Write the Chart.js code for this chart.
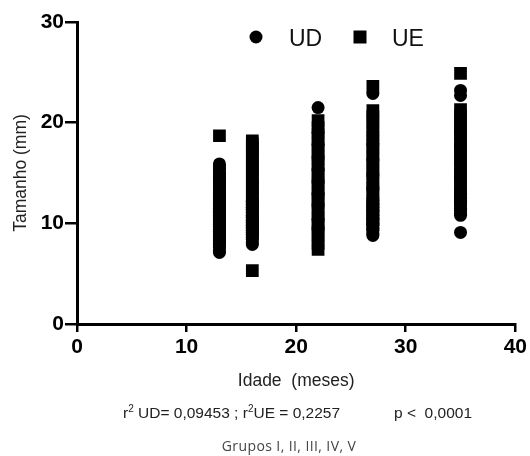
<!DOCTYPE html>
<html>
<head>
<meta charset="utf-8">
<script src="https://cdn.jsdelivr.net/npm/chart.js@4.4.0/dist/chart.umd.min.js"></script>
<style>
  body { margin: 0; background: #fff; }
  #wrap { position: relative; width: 530px; height: 456px; }
  .note { position: absolute; font-family: 'Liberation Sans', Arial, sans-serif; font-size: 15.5px; line-height: 18px; color: #222; white-space: pre; }
  .sup { font-size: 10px; position: relative; top: -6px; }
  #r2 { left: 123px; top: 404px; }
  #pval { left: 394px; top: 404px; }
  #grupos { position: absolute; left: 0; width: 578px; top: 437px; text-align: center; font-family: 'Open Sans', sans-serif; font-size: 14px; letter-spacing: 0.4px; line-height: 17px; color: #444; }
</style>
</head>
<body>
<div id="wrap">
  <canvas id="chart" width="530" height="456"></canvas>
  <div class="note" id="r2">r<span class="sup">2</span> UD= 0,09453 ; r<span class="sup">2</span>UE = 0,2257</div>
  <div class="note" id="pval">p &lt;  0,0001</div>
  <div id="grupos">Grupos I, II, III, IV, V</div>
</div>
<script>
// Idade (meses) de cada grupo
const idades = [13, 16, 22, 27, 35];

// Tamanho (mm) - UD, por grupo
const udI   = [7.1, 7.3, 7.6, 7.8, 8.0, 8.3, 8.5, 8.7, 9.0, 9.2, 9.4, 9.7, 9.9, 10.1, 10.4, 10.6, 10.8, 11.1, 11.3, 11.5,
               11.8, 12.0, 12.2, 12.5, 12.7, 12.9, 13.2, 13.4, 13.6, 13.9, 14.1, 14.3, 14.6, 14.8, 15.0, 15.3, 15.5, 15.7, 15.9];
const udII  = [7.9, 8.1, 8.4, 8.6, 8.9, 9.1, 9.3, 9.6, 9.8, 10.1, 10.3, 10.6, 10.8, 11.1, 11.4, 11.6, 11.9, 12.2];
const udIII = [9.5, 10.4, 11.8, 12.9, 14.1, 15.3, 16.6, 17.8, 19.0, 21.5];
const udIV  = [8.8, 9.0, 9.3, 9.5, 9.8, 10.0, 10.3, 10.5, 10.8, 11.1, 11.3, 11.6, 11.9, 12.3, 13.4, 14.8, 16.3, 17.9, 22.9];
const udV   = [9.1, 10.8, 11.0, 11.3, 11.5, 11.8, 12.0, 12.3, 12.6, 12.9, 13.2, 14.5, 16.0, 17.7, 19.2, 22.7, 23.2];

// Tamanho (mm) - UE, por grupo
const ueI   = [8.5, 9.6, 10.5, 11.5, 12.5, 13.5, 14.5, 18.7];
const ueII  = [5.3, 9.0, 9.4, 9.9, 10.3, 10.8, 11.2, 11.7, 12.1, 12.6, 13.0, 13.5, 13.9, 14.4, 14.8, 15.3, 15.7, 16.2, 16.6, 17.1, 17.5, 17.9, 18.2];
const ueIII = [7.4, 8.0, 8.7, 9.3, 9.9, 10.6, 11.2, 11.9, 12.5, 13.1, 13.8, 14.4, 15.0, 15.7, 16.3, 16.9, 17.6, 18.2, 18.9, 19.5, 20.2];
const ueIV  = [9.9, 10.4, 11.1, 11.7, 12.3, 13.0, 13.6, 14.2, 14.9, 15.5, 16.1, 16.8, 17.4, 18.1, 18.7, 19.3, 20.0, 20.6, 21.2, 23.6];
const ueV   = [12.6, 13.1, 13.7, 14.4, 15.0, 15.6, 16.3, 16.9, 17.5, 18.2, 18.8, 19.4, 20.1, 20.7, 21.3, 24.9];

const xTicks = [0, 10, 20, 30, 40];
const yTicks = [0, 10, 20, 30];

const tamanhoUD = [udI, udII, udIII, udIV, udV];
const tamanhoUE = [ueI, ueII, ueIII, ueIV, ueV];

function toPoints(groups) {
    const pts = [];
    groups.forEach((vals, i) => {
        vals.forEach(v => pts.push({ x: idades[i], y: v }));
    });
    return pts;
}

// Legend drawn inside the plot area, like the original
const legenda = {
    id: 'legenda',
    afterDraw(chart) {
        const ctx = chart.ctx;
        const ds = chart.data.datasets;
        ctx.save();
        ctx.fillStyle = '#000';
        ctx.beginPath();
        ctx.arc(256, 37, 6.5, 0, Math.PI * 2);
        ctx.fill();
        ctx.fillRect(353.5, 30.5, 13, 13);
        ctx.fillStyle = '#111';
        ctx.font = '23px "Liberation Sans", Arial, sans-serif';
        ctx.textBaseline = 'alphabetic';
        ctx.fillText(ds[0].label, 289, 46);
        ctx.fillText(ds[1].label, 392, 46);
        ctx.restore();
    }
};

const ctx = document.getElementById('chart').getContext('2d');

const chart = new Chart(ctx, {
    type: 'scatter',
    data: {
        datasets: [
            {
                label: 'UD',
                data: toPoints(tamanhoUD),
                pointStyle: 'circle',
                pointRadius: 6.5,
                pointHoverRadius: 6.5,
                pointBorderWidth: 0,
                borderWidth: 0,
                backgroundColor: '#000',
                pointBackgroundColor: '#000'
            },
            {
                label: 'UE',
                data: toPoints(tamanhoUE),
                pointStyle: 'rect',
                pointRadius: 9,
                pointHoverRadius: 9,
                pointBorderWidth: 0,
                borderWidth: 0,
                backgroundColor: '#000',
                pointBackgroundColor: '#000'
            }
        ]
    },
    options: {
        responsive: false,
        animation: false,
        devicePixelRatio: 1,
        layout: { padding: { left: 0, right: 12, top: 22, bottom: 0 } },
        plugins: {
            legend: { display: false },
            tooltip: { enabled: false }
        },
        scales: {
            x: {
                type: 'linear',
                min: 0,
                max: 40,
                afterBuildTicks: s => { s.ticks = xTicks.map(v => ({ value: v })); },
                afterFit: s => { s.height = 132; },
                border: { color: '#000', width: 3 },
                grid: { drawOnChartArea: false, drawTicks: true, tickLength: 8, color: '#000', lineWidth: 2.5 },
                ticks: {
                    color: '#000',
                    padding: 3,
                    font: { family: '"Liberation Sans", Arial, sans-serif', size: 21, weight: 'bold' }
                },
                title: {
                    display: true,
                    text: 'Idade  (meses)',
                    color: '#222',
                    padding: { top: 0, bottom: 64.5 },
                    font: { family: '"Liberation Sans", Arial, sans-serif', size: 17.5 }
                }
            },
            y: {
                min: 0,
                max: 30,
                afterBuildTicks: s => { s.ticks = yTicks.map(v => ({ value: v })); },
                afterFit: s => { s.width = 77; },
                border: { color: '#000', width: 3 },
                grid: { drawOnChartArea: false, drawTicks: true, tickLength: 12, color: '#000', lineWidth: 2.5 },
                ticks: {
                    color: '#000',
                    padding: 1,
                    font: { family: '"Liberation Sans", Arial, sans-serif', size: 21, weight: 'bold' }
                },
                title: {
                    display: true,
                    text: 'Tamanho (mm)',
                    color: '#222',
                    padding: { top: 10.5, bottom: 0 },
                    font: { family: '"Liberation Sans", Arial, sans-serif', size: 17.5 }
                }
            }
        }
    },
    plugins: [legenda]
});
</script>
</body>
</html>
